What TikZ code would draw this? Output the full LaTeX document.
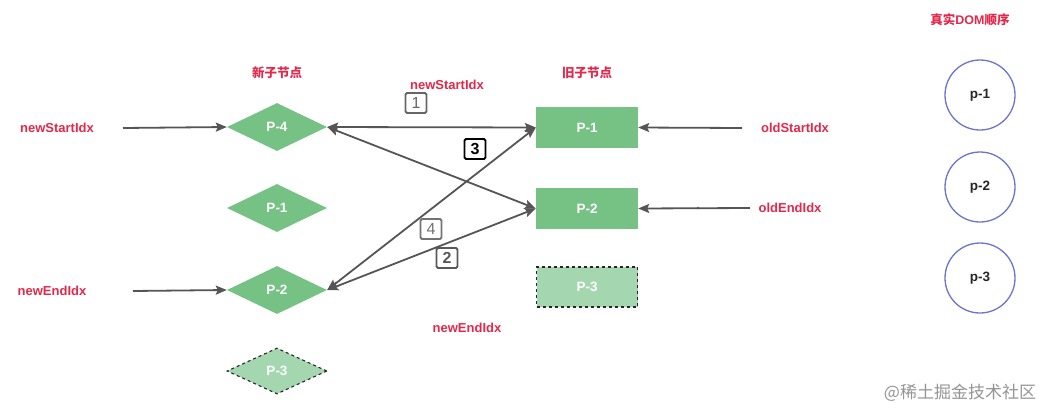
\documentclass[tikz,border=0pt]{standalone}
\usepackage{fontspec}
\setmainfont{Liberation Sans}
\newfontfamily\cjk{Noto Sans CJK SC}
\usetikzlibrary{shapes.geometric,arrows.meta}
\definecolor{lbl}{HTML}{E2284B}
\definecolor{grn}{HTML}{76C285}
\definecolor{lgrn}{HTML}{A4D7AF}
\definecolor{circ}{HTML}{6B74CC}
\definecolor{arr}{HTML}{555555}
\tikzset{
  redlbl/.style={text=lbl,font=\cjk\bfseries\fontsize{12.5}{14}\selectfont,inner sep=0pt},
  redlat/.style={text=lbl,font=\bfseries\fontsize{13}{15}\selectfont,inner sep=0pt},
  dia/.style={diamond,fill=grn,minimum width=100pt,minimum height=48pt,inner sep=0pt,aspect=2,text=white,font=\bfseries\fontsize{13.5}{15}\selectfont},
  diadash/.style={dia,fill=lgrn,draw=black!85,dashed,line width=1.1pt,minimum height=46pt},
  rbox/.style={rectangle,fill=grn,minimum width=102pt,minimum height=41pt,inner sep=0pt,text=white,font=\bfseries\fontsize{13.5}{15}\selectfont},
  rboxdash/.style={rbox,fill=lgrn,draw=black!85,dashed,line width=1.1pt,minimum width=101pt,minimum height=40pt},
  dom/.style={circle,draw=circ,line width=1.3pt,minimum size=70pt,inner sep=0pt,font=\bfseries\fontsize{13.5}{15}\selectfont,text=black!85},
  conn/.style={draw=arr,line width=1.8pt,-{Stealth[length=11pt,width=9pt,inset=2pt]}},
  dconn/.style={draw=arr,line width=1.8pt,{Stealth[length=11pt,width=9pt,inset=2pt]}-{Stealth[length=11pt,width=9pt,inset=2pt]}},
  numbox/.style={draw=#1,text=#1,line width=1.8pt,rounded corners=1.5pt,minimum width=21pt,minimum height=20pt,inner sep=0pt,font=\fontsize{16}{18}\selectfont},
}
\begin{document}
\begin{tikzpicture}[x=1pt,y=-1pt]
\useasboundingbox (0,0) rectangle (1047,410);
% titles
\node[redlbl] (tnew) at (277,73) {新子节点};
\node[redlbl] (told) at (587,73) {旧子节点};
\node[redlbl] (tdom) at (970,20) {真实{\bfseries\fontspec{Liberation Sans}DOM}顺序};
\node[redlat] (nsTop) at (447,85) {newStartIdx};
\node[redlat] (neBot) at (467,328) {newEndIdx};
\node[redlat] (nsL) at (57,128) {newStartIdx};
\node[redlat] (neL) at (52,291) {newEndIdx};
\node[redlat] (osR) at (795,128) {oldStartIdx};
\node[redlat] (oeR) at (790,208) {oldEndIdx};
% new children
\node[dia] (n4) at (277,127) {P-4};
\node[dia] (n1) at (277,208) {P-1};
\node[dia] (n2) at (277,290) {P-2};
\node[diadash] (n3) at (277,371) {P-3};
% old children
\node[rbox] (o1) at (587,127.5) {P-1};
\node[rbox] (o2) at (587,208.5) {P-2};
\node[rboxdash] (o3) at (587,287) {P-3};
% dom
\node[dom] (d1) at (980,95) {p-1};
\node[dom] (d2) at (980,187) {p-2};
\node[dom] (d3) at (980,278) {p-3};
% pointer arrows
\coordinate (a1) at (123,128);
\coordinate (a2) at (133,291);
\coordinate (a3) at (742,128);
\coordinate (a4) at (750,208);
\draw[conn] (a1) -- (n4.west);
\draw[conn] (a2) -- (n2.west);
\draw[conn] (a3) -- (o1.east);
\draw[conn] (a4) -- (o2.east);
\fill[arr] (698,208) circle (1.3pt);
% comparisons
\draw[dconn] (n4.east) -- (o1.west);
\draw[dconn] (n4.east) -- (o2.west);
\draw[dconn] (n2.east) -- (o1.west);
\draw[dconn] (n2.east) -- (o2.west);
% numbers
\node[numbox=black!60] (b1) at (416,103) {1};
\node[numbox=black,font=\bfseries\fontsize{16}{18}\selectfont] (b3) at (475,149) {3};
\node[numbox=black!55] (b4) at (431,229) {4};
\node[numbox=black!65,font=\bfseries\fontsize{16}{18}\selectfont] (b2) at (447,258) {2};
% watermark
\node[text=black!42,font=\cjk\fontsize{17}{19}\selectfont,inner sep=0pt] (wm) at (960,393) {@稀土掘金技术社区};
\end{tikzpicture}
\end{document}
